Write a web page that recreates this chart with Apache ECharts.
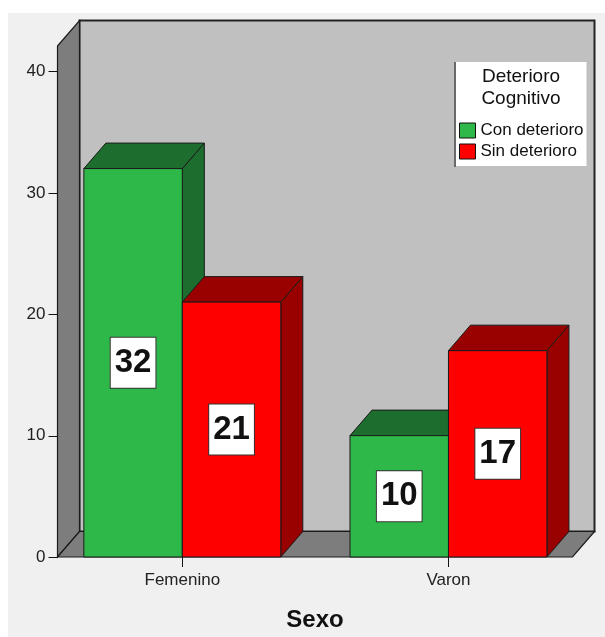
<!DOCTYPE html>
<html>
<head>
<meta charset="utf-8">
<title>Deterioro Cognitivo por Sexo</title>
<script src="https://cdn.jsdelivr.net/npm/echarts@6/dist/echarts.min.js"></script>
<style>
  html, body { margin: 0; padding: 0; background: #ffffff; }
  #wrap { position: relative; width: 605px; height: 637px; overflow: hidden; }
  #panel { position: absolute; left: 8px; top: 13px; right: 0; bottom: 0; background: #f0f0f0; }
  #chart { position: absolute; left: 0; top: 0; width: 605px; height: 637px; }
</style>
</head>
<body>
<div id="wrap">
  <div id="panel"></div>
  <div id="chart"></div>
</div>
<script>
// Categories and counts per group
const categories = ['Femenino', 'Varon'];
const conDeterioro = [32, 10];
const sinDeterioro = [21, 17];
const seriesNames = ['Con deterioro', 'Sin deterioro'];
const yTicks = [0, 10, 20, 30, 40];
const legendTitle = 'Deterioro\nCognitivo';
const axisTitle = 'Sexo';

// Pseudo-3D depth offsets (px) and bar width as fraction of a category unit
const DX = 22;
const DY = -25.5;
const BAR_FRACTION = 0.37;
const TICK_LEN = 9;
const EDGE = '#1a1a1a';
const FONT = '"Liberation Sans", Arial, sans-serif';

const colors = {
  con: { front: '#2fb84a', dark: '#1d6e2e' },
  sin: { front: '#ff0000', dark: '#990000' }
};

const chart = echarts.init(document.getElementById('chart'), null, { renderer: 'canvas' });

// Back wall, left wall and floor of the 3D box, built from the grid rectangle,
// plus the value-axis tick marks on the front edge
function frameRenderer(params, api) {
  const cs = params.coordSys;
  const x0 = cs.x, x1 = cs.x + cs.width;
  const yT = cs.y, yB = cs.y + cs.height;
  const st = (fill) => ({ fill: fill, stroke: EDGE, lineWidth: 1.2 });
  const ticks = yTicks.map((t) => {
    const y = Math.round(api.coord([0, t])[1]) + 0.5;
    return { type: 'line', shape: { x1: x0 - TICK_LEN, y1: y, x2: x0, y2: y }, style: { stroke: '#111', lineWidth: 1 } };
  });
  return {
    type: 'group',
    children: [
      { type: 'polygon', shape: { points: [[x0 + DX, yT + DY], [x1 + DX, yT + DY], [x1 + DX, yB + DY], [x0 + DX, yB + DY]] },
        style: { fill: '#c0c0c0', stroke: '#222', lineWidth: 2 } },
      { type: 'polygon', shape: { points: [[x0, yT], [x0 + DX, yT + DY], [x0 + DX, yB + DY], [x0, yB]] }, style: st('#7d7d7d') },
      { type: 'polygon', shape: { points: [[x0, yB], [x0 + DX, yB + DY], [x1 + DX, yB + DY], [x1, yB]] }, style: st('#7d7d7d') }
    ].concat(ticks)
  };
}

// One 3D bar: side face, top face, front face and a boxed value label
function barRenderer(slot, palette) {
  return function (params, api) {
    const cat = api.value(0);
    const v = api.value(1);
    const base = api.coord([cat, 0]);
    const top = api.coord([cat, v]);
    const bw = api.size([1, 0])[0] * BAR_FRACTION;
    const xl = base[0] + (slot === 0 ? -bw : 0);
    const xr = xl + bw;
    const y0 = base[1], yv = top[1];
    const st = (fill) => ({ fill: fill, stroke: EDGE, lineWidth: 1 });
    return {
      type: 'group',
      children: [
        { type: 'polygon', shape: { points: [[xr, yv], [xr + DX, yv + DY], [xr + DX, y0 + DY], [xr, y0]] }, style: st(palette.dark) },
        { type: 'polygon', shape: { points: [[xl, yv], [xl + DX, yv + DY], [xr + DX, yv + DY], [xr, yv]] }, style: st(palette.dark) },
        { type: 'rect', shape: { x: xl, y: yv, width: bw, height: y0 - yv }, style: st(palette.front) },
        { type: 'text', x: (xl + xr) / 2, y: (yv + y0) / 2,
          style: {
            text: String(v),
            font: 'bold 33px ' + FONT,
            fill: '#111',
            align: 'center',
            verticalAlign: 'middle',
            lineHeight: 38,
            backgroundColor: '#ffffff',
            borderColor: '#333',
            borderWidth: 1,
            padding: [6, 4, 6, 4]
          } }
      ]
    };
  };
}

const toPoints = (arr) => arr.map((v, i) => [i, v]);

const option = {
  backgroundColor: 'transparent',
  animation: false,
  grid: { left: 57.5, right: 32.5, top: 46, bottom: 79.5, containLabel: false },
  xAxis: {
    type: 'value',
    min: -0.469,
    max: 1.466,
    splitLine: { show: false },
    axisLine: { show: false },
    axisTick: { show: true, customValues: [0, 1], length: 10, lineStyle: { color: '#111', width: 1 } },
    axisLabel: {
      customValues: [0, 1],
      formatter: (val) => categories[Math.round(val)],
      fontFamily: FONT, fontSize: 17, color: '#222', margin: 15
    },
    name: axisTitle,
    nameLocation: 'middle',
    nameGap: 51,
    nameTextStyle: { fontFamily: FONT, fontSize: 24, fontWeight: 'bold', color: '#111' }
  },
  yAxis: {
    type: 'value',
    min: 0,
    max: 42.1,
    splitLine: { show: false },
    axisLine: { show: true, lineStyle: { color: '#111', width: 1 } },
    axisTick: { show: false },
    axisLabel: { customValues: yTicks, fontFamily: FONT, fontSize: 17, color: '#222', margin: 12 }
  },
  legend: {
    data: seriesNames,
    orient: 'vertical',
    left: 455,
    top: 62,
    padding: [60, 3, 6, 4],
    itemGap: 4,
    itemWidth: 16,
    itemHeight: 15,
    icon: 'rect',
    backgroundColor: '#ffffff',
    itemStyle: { borderColor: '#111', borderWidth: 1 },
    textStyle: { fontFamily: FONT, fontSize: 17, color: '#111' },
    selectedMode: false
  },
  graphic: [
    { type: 'text', z: 100, x: 521, y: 65.5,
      style: { text: legendTitle, font: '19px ' + FONT, fill: '#111', align: 'center', verticalAlign: 'top', lineHeight: 22 } },
    { type: 'line', z: 100, shape: { x1: 455, y1: 62, x2: 455, y2: 167 }, style: { stroke: '#6a6a6a', lineWidth: 2 } }
  ],
  series: [
    { type: 'custom', name: 'frame', z: 1, silent: true, renderItem: frameRenderer, data: [[0, 0]] },
    { type: 'custom', name: seriesNames[0], z: 2, renderItem: barRenderer(0, colors.con),
      itemStyle: { color: colors.con.front }, encode: { x: 0, y: 1 }, data: toPoints(conDeterioro) },
    { type: 'custom', name: seriesNames[1], z: 2, renderItem: barRenderer(1, colors.sin),
      itemStyle: { color: colors.sin.front }, encode: { x: 0, y: 1 }, data: toPoints(sinDeterioro) }
  ]
};

chart.setOption(option);
</script>
</body>
</html>
